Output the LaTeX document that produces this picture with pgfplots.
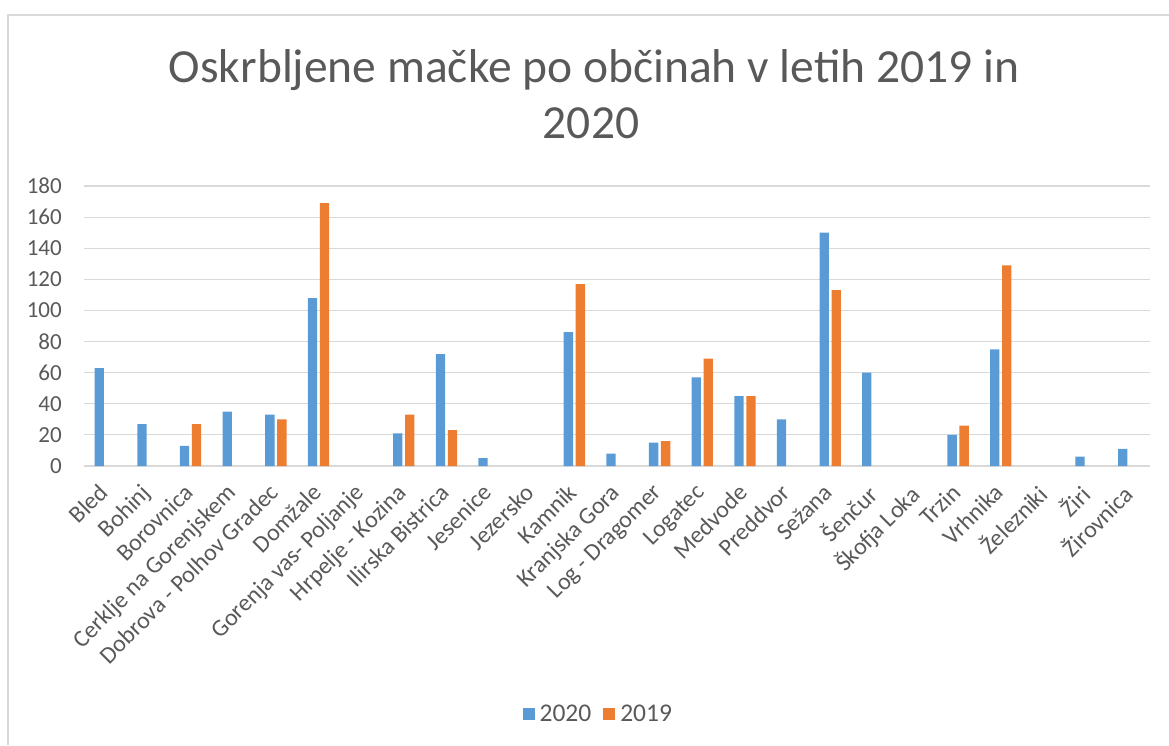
\documentclass[border=0pt]{standalone}
\usepackage{pgfplots}
\pgfplotsset{compat=1.18}
\usepackage{fontspec}
\setmainfont{Carlito}
\definecolor{cblue}{HTML}{5B9BD5}
\definecolor{corange}{HTML}{ED7D31}
\definecolor{ctext}{HTML}{595959}
\definecolor{cgrid}{HTML}{D9D9D9}
\begin{document}
\begin{tikzpicture}[x=1pt,y=1pt]
\useasboundingbox (0,0) rectangle (1169,745);
\draw[cgrid, line width=1.5pt] (8,0) -- (8,730) -- (1169,730);
\node[anchor=base, text=ctext, font=\fontsize{47.5}{56}\selectfont, inner sep=0pt] at (594,662) {Oskrbljene mačke po občinah v letih 2019 in};
\node[anchor=base, text=ctext, font=\fontsize{47.5}{56}\selectfont, inner sep=0pt] at (591,606) {2020};
\begin{axis}[
  at={(84pt,279pt)}, anchor=south west,
  scale only axis, width=1066pt, height=280pt,
  ybar=2.7pt, bar width=9.3pt,
  xmin=-0.5, xmax=24.5, ymin=0, ymax=180,
  ytick={0,20,...,180},
  xtick={0,...,24},
  xticklabels={Bled,Bohinj,Borovnica,Cerklje na Gorenjskem,Dobrova - Polhov Gradec,Domžale,Gorenja vas- Poljanje,Hrpelje - Kozina,Ilirska Bistrica,Jesenice,Jezersko,Kamnik,Kranjska Gora,Log - Dragomer,Logatec,Medvode,Preddvor,Sežana,Šenčur,Škofja Loka,Trzin,Vrhnika,Železniki,Žiri,Žirovnica},
  axis line style={draw=none},
  major tick length=0pt,
  ymajorgrids, grid style={cgrid, line width=1.2pt},
  /pgf/number format/assume math mode=true,
  yticklabel style={text=ctext, font=\fontsize{23}{27}\selectfont, anchor=east, inner sep=0pt, xshift=-22pt},
  xticklabel style={text=ctext, font=\fontsize{24}{28}\selectfont, rotate=45, anchor=north east, inner sep=0pt, yshift=-6pt, xshift=-17pt},
  legend style={at={(0.482,-0.886)}, anchor=center, draw=none, fill=none,
    legend columns=2, font=\fontsize{25.5}{30}\selectfont, text=ctext,
    /tikz/every odd column/.append style={column sep=4pt},
    /tikz/every even column/.append style={column sep=11pt},
    nodes={inner sep=1pt}},
  legend image code/.code={\fill[#1] (0pt,-6pt) rectangle (12pt,6pt);},
]
\addplot[fill=cblue, draw=none] coordinates {
(0,63) (1,27) (2,13) (3,35) (4,33) (5,108) (7,21) (8,72) (9,5) (11,86) (12,8) (13,15) (14,57) (15,45) (16,30) (17,150) (18,60) (20,20) (21,75) (23,6) (24,11)};
\addlegendentry{2020}
\addplot[fill=corange, draw=none] coordinates {
(2,27) (4,30) (5,169) (7,33) (8,23) (11,117) (13,16) (14,69) (15,45) (17,113) (20,26) (21,129)};
\addlegendentry{2019}
\end{axis}
\end{tikzpicture}
\end{document}
